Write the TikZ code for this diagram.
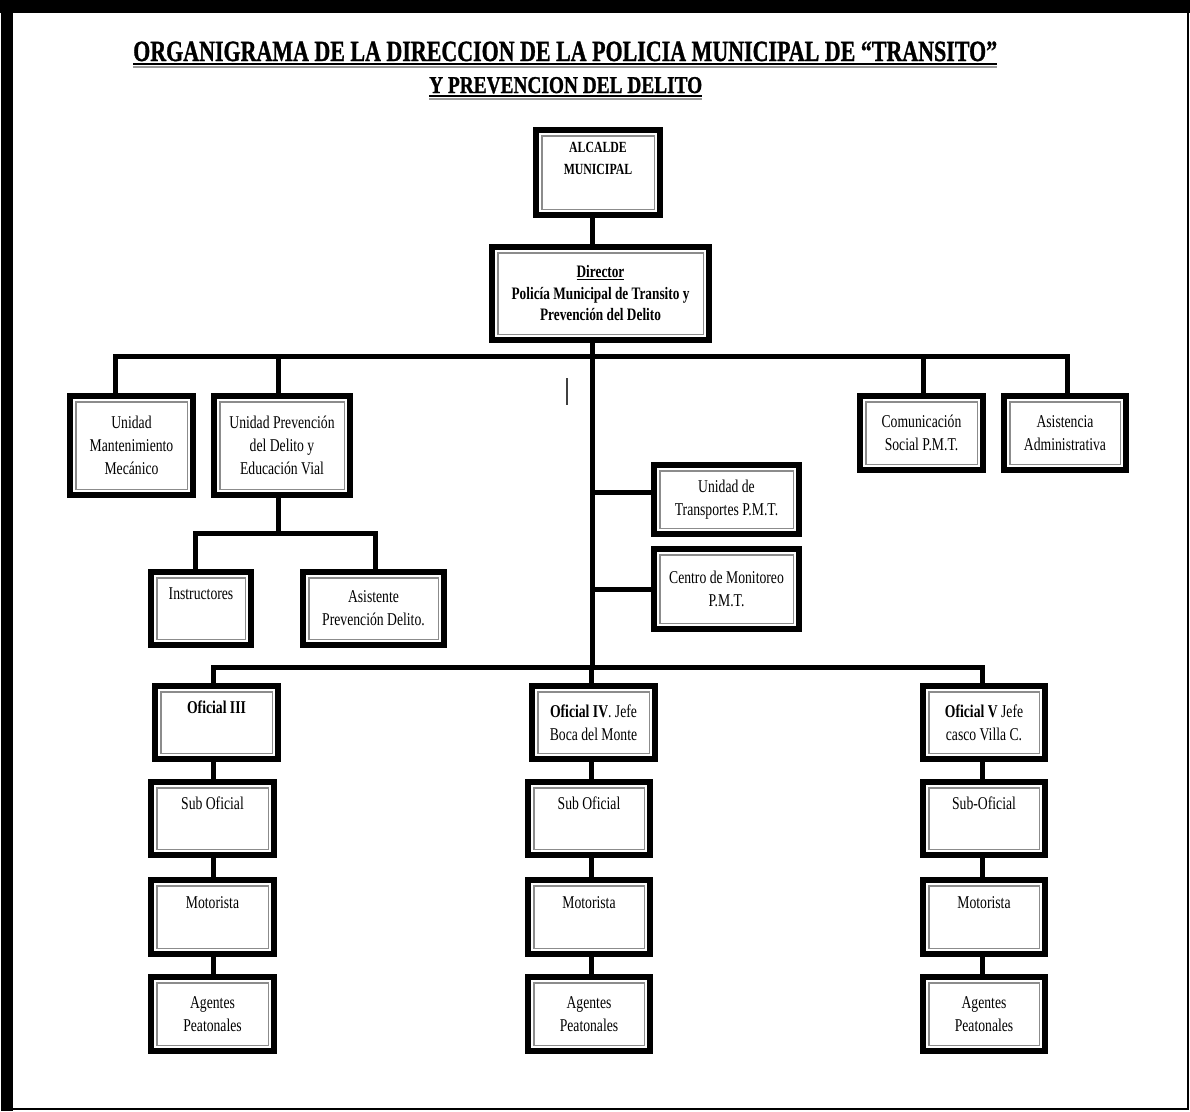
\documentclass[tikz,border=0pt]{standalone}
\usepackage{fontspec}
\setmainfont[FakeStretch=0.76]{Liberation Serif}
\newfontfamily\titlefont[FakeBold=1.2]{Liberation Serif}
\usetikzlibrary{backgrounds}
\begin{document}
\begin{tikzpicture}[x=1pt,y=-1pt,
  ubox/.style={draw=black, line width=6pt, fill=white, inner sep=0pt, align=center,
    font=\fontsize{18}{23}\selectfont,
    path picture={\draw[black!45, line width=1.8pt]
      ([xshift=5.6pt,yshift=-5.6pt]path picture bounding box.north west) rectangle
      ([xshift=-5.6pt,yshift=5.6pt]path picture bounding box.south east);}},
  sz/.style 2 args={minimum width=#1pt, minimum height=#2pt},
  conn/.style={line width=5pt, line join=miter},
  ttl/.style={anchor=base west, inner sep=0pt}
]
\useasboundingbox (0,0) rectangle (1190,1111);
% frame
\fill[black] (0,0) rectangle (1190,13);
\fill[black] (1,0) rectangle (13,1111);
\draw[black, line width=1.5pt] (13,1109) -- (1188,1109) -- (1188,13);

% title
\node[ttl] (t1) at (133,61) {\resizebox{864pt}{19.5pt}{\titlefont\bfseries ORGANIGRAMA DE LA DIRECCION DE LA POLICIA MUNICIPAL DE “TRANSITO”}};
\draw[line width=2pt] ([yshift=-2.5pt]t1.base west) -- ([yshift=-2.5pt]t1.base east);
\draw[black!40, line width=2pt] ([yshift=-5.5pt]t1.base west) -- ([yshift=-5.5pt]t1.base east);
\node[ttl] (t2) at (429,93) {\resizebox{273pt}{16pt}{\titlefont\bfseries Y PREVENCION DEL DELITO}};
\draw[line width=2pt] ([yshift=-2.5pt]t2.base west) -- ([yshift=-2.5pt]t2.base east);
\draw[black!40, line width=2pt] ([yshift=-5.5pt]t2.base west) -- ([yshift=-5.5pt]t2.base east);

% boxes
\node[ubox, sz={124}{85}, font=\fontsize{15.5}{22}\selectfont\bfseries] (alc) at (598,172.5) {ALCALDE\\MUNICIPAL\\\strut};
\node[ubox, sz={217}{93}, font=\fontsize{17.5}{21.5}\selectfont\bfseries] (dir) at (600.5,293.5) {\underline{Director}\\Policía Municipal de Transito y\\Prevención del Delito};

\node[ubox, sz={123}{99}] (mant) at (131.5,445.5) {Unidad\\Mantenimiento\\Mecánico};
\node[ubox, sz={136}{99}] (prev) at (282,445.5) {Unidad Prevención\\del Delito y\\Educación Vial};
\node[ubox, sz={100}{73}] (instr) at (201,608.5) {Instructores\\\strut};
\node[ubox, sz={141}{73}] (asist) at (373.5,608.5) {Asistente\\Prevención Delito.};

\node[ubox, sz={145}{69}] (trans) at (726.5,499.5) {Unidad de\\Transportes P.M.T.};
\node[ubox, sz={145}{80}] (mon) at (726.5,589) {Centro de Monitoreo\\P.M.T.};

\node[ubox, sz={123}{74}] (com) at (921.5,433) {Comunicación\\Social P.M.T.};
\node[ubox, sz={122}{74}] (asis) at (1065,433) {Asistencia\\Administrativa};

\node[ubox, sz={123}{73}] (of3) at (216.5,722.5) {\textbf{Oficial III}\\\strut};
\node[ubox, sz={123}{73}] (sub3) at (212.5,818.5) {Sub Oficial\\\strut};
\node[ubox, sz={123}{74}] (mot3) at (212.5,917) {Motorista\\\strut};
\node[ubox, sz={123}{74}] (ag3) at (212.5,1014) {Agentes\\Peatonales};

\node[ubox, sz={123}{73}] (of4) at (593.5,722.5) {\textbf{Oficial IV}. Jefe\\Boca del Monte};
\node[ubox, sz={122}{73}] (sub4) at (589,818.5) {Sub Oficial\\\strut};
\node[ubox, sz={122}{74}] (mot4) at (589,917) {Motorista\\\strut};
\node[ubox, sz={122}{74}] (ag4) at (589,1014) {Agentes\\Peatonales};

\node[ubox, sz={122}{73}] (of5) at (984,722.5) {\textbf{Oficial V} Jefe\\casco Villa C.};
\node[ubox, sz={122}{73}] (sub5) at (984,818.5) {Sub-Oficial\\\strut};
\node[ubox, sz={122}{74}] (mot5) at (984,917) {Motorista\\\strut};
\node[ubox, sz={122}{74}] (ag5) at (984,1014) {Agentes\\Peatonales};

% coordinates
\coordinate (tr) at (592,356);
\coordinate (bL) at (115,356);
\coordinate (bR) at (1067,356);
\coordinate (bP) at (278,356);
\coordinate (bC) at (923,356);
\coordinate (b2) at (591,667);
\coordinate (c3) at (213,667);
\coordinate (c5) at (982,667);
\coordinate (kt) at (592,492);
\coordinate (km) at (592,589);
\coordinate (sb) at (278,533);
\coordinate (sL) at (195,533);
\coordinate (sR) at (375,533);

\begin{scope}[on background layer]
\draw[conn] (alc.south -| tr) -- (dir.north -| tr);
\draw[conn] (dir.south -| tr) -- (tr |- b2);
\draw[conn] (bL |- mant.north) -- (bL) -- (bR) -- (bR |- asis.north);
\draw[conn] (bP) -- (bP |- prev.north);
\draw[conn] (bC) -- (bC |- com.north);
\draw[conn] (kt) -- (kt -| trans.west);
\draw[conn] (km) -- (km -| mon.west);
\draw[conn] (prev.south -| sb) -- (sb);
\draw[conn] (sL |- instr.north) -- (sL) -- (sR) -- (sR |- asist.north);
\draw[conn] (c3 |- of3.north) -- (c3) -- (c5) -- (c5 |- of5.north);
\draw[conn] (b2) -- (b2 |- of4.north);
\draw[conn] (c3 |- of3.south) -- (c3 |- ag3.north);
\draw[conn] (b2 |- of4.south) -- (b2 |- ag4.north);
\draw[conn] (c5 |- of5.south) -- (c5 |- ag5.north);
\end{scope}

% stray mark
\draw[black!75, line width=1.3pt] (567,378) -- (567,405);
\end{tikzpicture}
\end{document}
